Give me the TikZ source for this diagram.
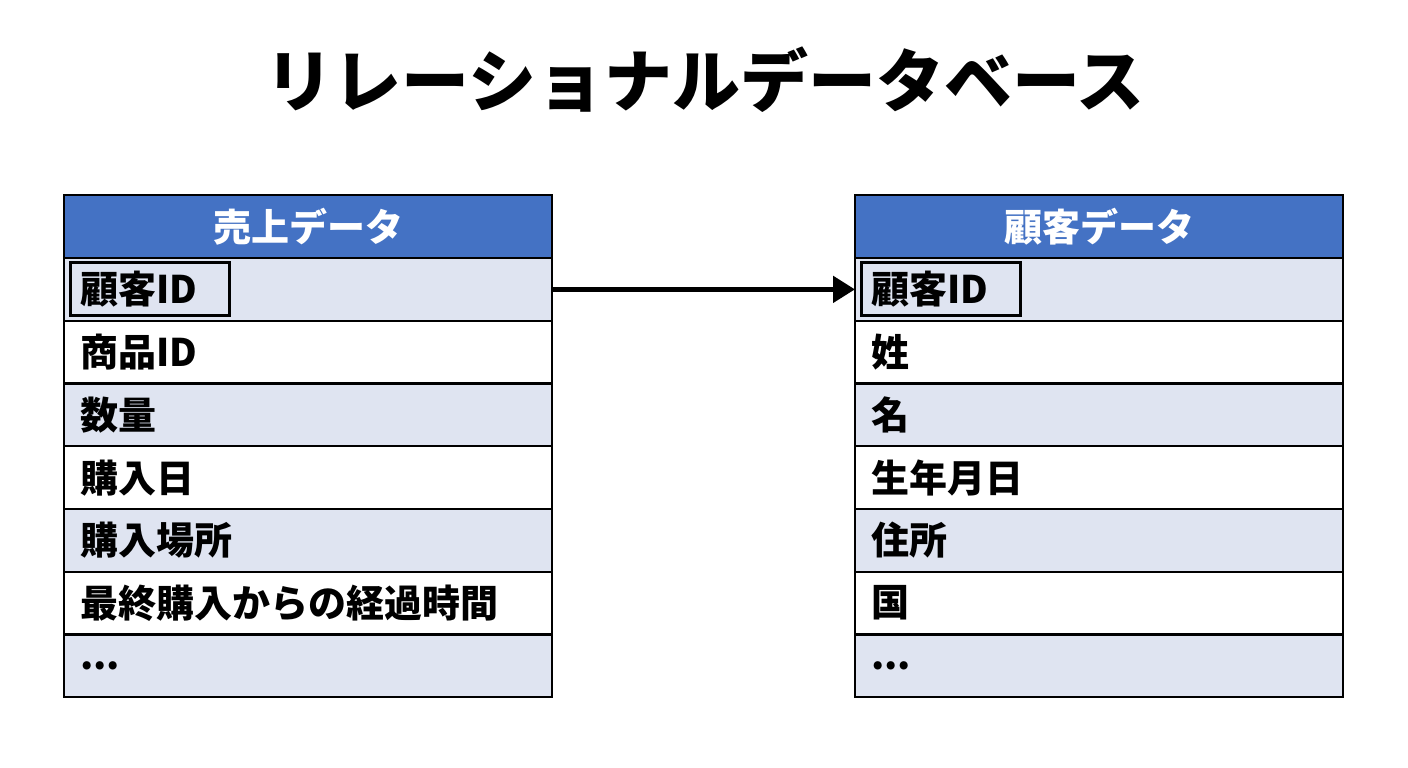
\documentclass[tikz,border=0pt]{standalone}
\usepackage{fontspec}
\setmainfont{Noto Sans CJK JP}
\usetikzlibrary{positioning,arrows.meta}
\definecolor{headblue}{HTML}{4472C4}
\definecolor{rowgray}{HTML}{DFE4F1}

\begin{document}
\begin{tikzpicture}[x=1pt,y=-1pt,font=\bfseries\fontsize{38}{40}\selectfont]
            \tikzstyle{head}=[draw,line width=2.2pt,fill=headblue,text=white,minimum width=488pt,minimum height=63pt,inner sep=0pt,outer sep=0pt]
            \tikzstyle{row}=[draw,line width=2.2pt,minimum height=62.75pt,text width=456pt,inner xsep=16pt,inner ysep=0pt,align=left,outer sep=0pt]
            \tikzstyle{shaded}=[row,fill=rowgray]
            \tikzstyle{plain}=[row,fill=white]
            \tikzstyle{key}=[draw,line width=3pt,minimum height=53pt,text width=139pt,inner xsep=10pt,inner ysep=0pt,align=left,outer sep=0pt]
            \useasboundingbox (0,0) rectangle (1408,768);
            \node(title) at (705,80) {\fontsize{68}{72}\selectfont リレーショナルデータベース};
            % sales table
            \node(s0)[head] at (308,226.5) {売上データ};
            \node(s1)[shaded,below=0pt of s0] {};
            \node(s2)[plain,below=0pt of s1] {商品ID};
            \node(s3)[shaded,below=0pt of s2] {数量};
            \node(s4)[plain,below=0pt of s3] {購入日};
            \node(s5)[shaded,below=0pt of s4] {購入場所};
            \node(s6)[plain,below=0pt of s5] {最終購入からの経過時間};
            \node(s7)[shaded,below=0pt of s6] {...};
            \node(skey)[key,anchor=west] at ([xshift=6pt]s1.west) {顧客ID};
            % customer table
            \node(c0)[head] at (1099,226.5) {顧客データ};
            \node(c1)[shaded,below=0pt of c0] {};
            \node(c2)[plain,below=0pt of c1] {姓};
            \node(c3)[shaded,below=0pt of c2] {名};
            \node(c4)[plain,below=0pt of c3] {生年月日};
            \node(c5)[shaded,below=0pt of c4] {住所};
            \node(c6)[plain,below=0pt of c5] {国};
            \node(c7)[shaded,below=0pt of c6] {...};
            \node(ckey)[key,anchor=west] at ([xshift=6pt]c1.west) {顧客ID};
            \draw[-{Triangle[length=22pt,width=26pt]},line width=5pt] (s1.east) -- (c1.west);
          \end{tikzpicture}
\end{document}
